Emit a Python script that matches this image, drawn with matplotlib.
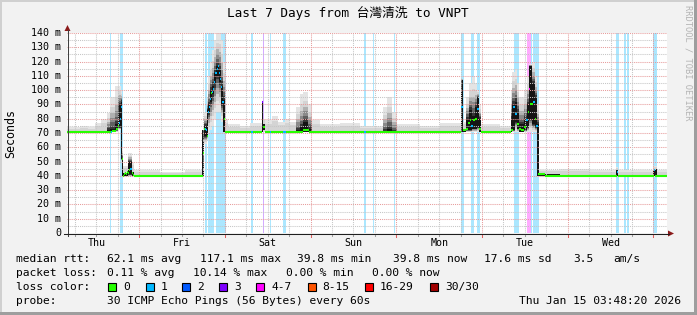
#Importing Required Libraries
import numpy as np
import matplotlib
matplotlib.use("Agg")
import matplotlib.pyplot as plt
from matplotlib.patches import Rectangle, Polygon
from matplotlib.lines import Line2D
from matplotlib.transforms import blended_transform_factory

plt.rcParams['font.family'] = ['DejaVu Sans Mono', 'Noto Sans CJK SC']

#Chart data: time in hours after Thu 00:00, rtt in ms
t_start = 3.8
t_end = 171.8
day_names = ["Thu", "Fri", "Sat", "Sun", "Mon", "Tue", "Wed"]
y_ticks = [0, 10, 20, 30, 40, 50, 60, 70, 80, 90, 100, 110, 120, 130, 140]

#median rtt steps and their loss level
med_t = [3.8, 16.1, 16.4, 17.5, 18.1, 18.4, 18.6, 18.9, 19.2, 19.5, 19.8, 20.0, 20.3, 20.6, 20.9, 21.2, 21.4, 22.0, 22.3, 22.6,
         41.9, 42.2, 42.4, 42.7, 43.0, 43.3, 43.6, 43.8, 44.1, 44.4, 44.7, 45.0, 45.2, 45.8, 46.1, 46.4, 46.6, 46.9, 47.2, 47.8, 48.0,
         55.3, 55.9, 58.4, 58.7, 59.2, 60.6, 60.9, 64.3, 65.1, 69.9, 71.6, 87.0, 87.5,
         114.1, 114.7, 115.5, 116.1, 116.6, 116.9, 117.5, 118.0, 118.6, 119.2, 119.7,
         128.1, 128.7, 129.2, 129.8, 130.4, 130.9, 131.8, 132.3, 132.9, 133.2, 133.4, 134.3, 134.8, 135.1, 135.7, 137.6,
         157.8, 158.1, 168.2, 168.4]
med_rtt = [71, 71, 71.5, 73, 75, 77, 80, 88, 52, 40, 41, 42, 41, 43, 42, 44, 45, 42, 40.5, 40,
           56, 73, 73, 72, 68, 85, 88, 94, 98, 99, 101, 106, 112, 115, 117, 112, 108, 102, 92, 80, 71,
           71, 71, 92, 74, 71, 71, 71, 71, 71, 72, 71, 71, 71,
           88, 72, 73, 77, 79, 75, 79, 80, 87, 73, 71,
           72, 88, 83, 76, 73, 72, 74, 79, 85, 101, 90, 92, 80, 75, 41, 40,
           43, 40, 44, 40]
med_loss = [0, 1, 0, 0, 0, 1, 1, 1, 0, 0, 0, 0, 0, 0, 0, 0, 1, 0, 0, 0,
            0, 0, 1, 1, 0, 1, 1, 1, 0, 1, 1, 1, 1, 1, 1, 1, 1, 1, 1, 0, 0,
            1, 0, 3, 0, 0, 1, 0, 1, 0, 0, 0, 1, 0,
            1, 0, 0, 0, 0, 1, 0, 0, 1, 0, 0,
            0, 1, 1, 0, 0, 0, 0, 1, 0, 4, 0, 1, 0, 1, 0, 0,
            1, 0, 1, 0]

#smoke (spread of the pings): outer range and dark core
smoke_t = [3.8, 7.4, 9.7, 11.6, 13.3, 15.0, 15.8, 17.2, 18.1, 18.9,
           19.2, 19.5, 20.9, 22.0, 22.6, 29.8, 36.8,
           41.6, 42.2, 43.0, 43.3, 43.8, 44.4, 45.0, 45.5, 46.4, 46.9, 47.5,
           48.0, 48.9, 52.2, 55.0, 58.4, 58.7, 59.2, 61.2, 62.9, 64.8,
           66.2, 67.9, 69.0, 69.9, 71.3, 72.4, 74.6, 80.2, 85.8,
           92.3, 93.4, 94.8, 96.2, 102.6, 108.2,
           114.1, 114.7, 115.5, 116.4, 117.2, 118.0, 118.6, 119.2, 119.7, 125.0,
           128.1, 128.4, 129.2, 129.8, 130.4, 131.8, 132.6, 133.2, 134.0, 134.8,
           135.4, 135.9, 141.8, 150.2, 157.5, 158.1, 164.2, 167.9, 169.0]
smoke_lo = [70.5, 70.5, 70.5, 70.5, 70.5, 70.5, 70.5, 70.5, 72, 50,
            39.5, 39.5, 39.5, 39.5, 39.5, 39.5, 39.5,
            39.5, 62, 65, 70, 72, 75, 80, 85, 85, 78, 70,
            70.5, 70.5, 70.5, 70.5, 70.5, 70.5, 70.5, 70.5, 70.5, 70.5,
            70.5, 70.5, 70.5, 70.5, 70.5, 70.5, 70.5, 70.5, 70.5,
            70.5, 70.5, 70.5, 70.5, 70.5, 70.5,
            70.5, 70.5, 70.5, 70.5, 70.5, 70.5, 70.5, 70.5, 70.5, 70.5,
            70.5, 70.5, 70.5, 70.5, 70.5, 70.5, 70.5, 70.5, 70.5, 70.5,
            39.5, 39.5, 39.5, 39.5, 39.5, 39.5, 39.5, 39.5, 39.5]
smoke_hi = [74, 75, 74, 77, 80, 84, 95, 103, 103, 100,
            60, 47, 56, 50, 44, 43, 44,
            72, 85, 95, 110, 120, 128, 135, 140, 140, 135, 120,
            80, 76, 75, 77, 92, 80, 79, 82, 78, 80,
            78, 88, 97, 99, 90, 79, 76, 77, 75,
            88, 95, 85, 76, 75, 77,
            108, 78, 95, 105, 109, 105, 100, 90, 76, 75,
            100, 113, 115, 105, 95, 100, 110, 118, 120, 110,
            90, 44, 45, 44, 46, 44, 44, 47, 44]
core_lo = [71, 71, 71, 71, 71, 71, 71, 72, 74, 52,
           40, 40, 41, 40, 40, 40, 40,
           40, 68, 68, 84, 92, 97, 104, 110, 106, 90, 71,
           71, 71, 71, 71, 71, 72, 71, 71, 71, 71,
           71, 71, 71, 71, 71, 71, 71, 71, 71,
           71, 71, 71, 71, 71, 71,
           71, 71, 72, 72, 73, 73, 74, 71, 71, 71,
           71, 72, 78, 73, 71, 72, 74, 80, 76, 74,
           40, 40, 40, 40, 40, 40, 40, 40, 40]
core_hi = [71, 71, 71, 71, 71, 72, 73, 76, 90, 92,
           52, 42, 50, 43, 40, 40, 40,
           72, 75, 86, 90, 100, 103, 112, 117, 114, 103, 93,
           71, 71, 71, 71, 92, 76, 71, 71, 71, 71,
           71, 72, 74, 78, 73, 71, 71, 71, 71,
           71, 73, 71, 71, 71, 71,
           107, 72, 80, 86, 82, 88, 95, 80, 71, 71,
           80, 90, 92, 85, 76, 80, 90, 117, 105, 95,
           76, 41, 40, 40, 44, 40, 40, 45, 40]

#packet loss bars
loss_start = [15.8, 18.6, 42.4, 43.3, 45.5, 55.3, 58.7, 60.6, 64.3, 87.0, 89.5, 95.4,
              114.1, 116.9, 118.6, 129.0, 132.6, 133.7, 134.3, 157.5, 159.8, 160.6, 167.9]
loss_end = [16.1, 19.5, 43.0, 45.0, 48.3, 55.9, 59.0, 61.0, 65.1, 87.5, 89.8, 95.7,
            115.0, 117.8, 119.4, 130.4, 133.6, 134.0, 136.0, 158.4, 160.3, 161.2, 169.0]
loss_level = [1, 1, 1, 1, 1, 1, 3, 1, 1, 1, 1, 1,
              1, 1, 1, 1, 4, 1, 1, 1, 1, 1, 1]

loss_labels = ["0", "1", "2", "3", "4-7", "8-15", "16-29", "30/30"]
loss_colors = ["#26ff00", "#00b8ff", "#0059ff", "#7e00ff", "#ff00ff", "#ff5500", "#ff0000", "#a10000"]

#Figure setup (sizes in pixels)
W, H = 697, 315
fig = plt.figure(figsize=(W / 100, H / 100), dpi=100)
fig.patch.set_facecolor("#f2f2f2")

def fx(x):
    return x / W

def fy(y):
    return 1 - y / H

#frame shading
fig.add_artist(Rectangle((0, fy(2)), 1, 2 / H, transform=fig.transFigure, fc="#d0d0d0", lw=0))
fig.add_artist(Rectangle((0, 0), 2 / W, 1, transform=fig.transFigure, fc="#d0d0d0", lw=0))
fig.add_artist(Rectangle((0, 0), 1, 3 / H, transform=fig.transFigure, fc="#9e9e9e", lw=0))
fig.add_artist(Rectangle((fx(W - 3), 0), 3 / W, 1, transform=fig.transFigure, fc="#9e9e9e", lw=0))

ax = fig.add_axes([fx(67), fy(233), 600 / W, 200 / H])
ax.set_facecolor("white")
ax.set_xlim(t_start, t_end)
ax.set_ylim(0, 140)
ax.set_xticks([])
ax.set_yticks([])
for s in ax.spines.values():
    s.set_visible(False)

#loss bars
for s, e, l in zip(loss_start, loss_end, loss_level):
    ax.axvspan(s, e, color=loss_colors[l], alpha=0.33, lw=0, zorder=1)

#smoke: light outer band, darker towards the core, dark shades only where the spread is wide
st = np.array(smoke_t + [t_end])
def ext(a):
    return np.array(a + [a[-1]], dtype=float)
lo, hi, clo, chi = ext(smoke_lo), ext(smoke_hi), ext(core_lo), ext(core_hi)
wide = (hi - lo) > 12
shades = ["#e4e4e4", "#d4d4d4", "#b0b0b0", "#8a8a8a", "#606060", "#363636"]
fracs = [0.0, 0.3, 0.5, 0.65, 0.8, 0.9]
for k, (f, c) in enumerate(zip(fracs, shades)):
    b = lo + (clo - lo) * f
    t = hi + (chi - hi) * f
    if k >= 2:
        t = np.where(wide, t, b)
    ax.fill_between(st, b, t, step="post", color=c, lw=0, zorder=3)
ax.fill_between(st, clo, chi, step="post", color="#141414", lw=0, zorder=3)

#grid
for y in range(5, 141, 5):
    major = y % 10 == 0
    ax.axhline(y, color="#e79c9c" if major else "#c6c6c6", lw=0.75, dashes=(1, 1), zorder=4)
for h in range(6, 172, 6):
    if h <= t_start:
        continue
    major = h % 24 == 0
    ax.axvline(h, color="#e79c9c" if major else "#c6c6c6", lw=0.75, dashes=(1, 1), zorder=4)

#median rtt coloured by loss
mt = med_t + [t_end]
for i in range(len(med_rtt)):
    ax.hlines(med_rtt[i], mt[i], mt[i + 1], colors=loss_colors[med_loss[i]], lw=1.5, zorder=5)

#axes with arrows
fig.add_artist(Line2D([fx(67.5), fx(67.5)], [fy(236), fy(30)], color="#404040", lw=0.75))
fig.add_artist(Line2D([fx(64), fx(669)], [fy(233.5), fy(233.5)], color="#202020", lw=0.75))
fig.add_artist(Polygon([[fx(64.5), fy(31)], [fx(70.5), fy(31)], [fx(67.5), fy(25)]],
                       transform=fig.transFigure, fc="#8b1a1a", lw=0))
fig.add_artist(Polygon([[fx(668), fy(230.5)], [fx(668), fy(236.5)], [fx(674), fy(233.5)]],
                       transform=fig.transFigure, fc="#8b1a1a", lw=0))

#x ticks and day labels
tx = blended_transform_factory(ax.transData, fig.transFigure)
for h in range(6, 172, 6):
    if h <= t_start:
        continue
    major = h % 24 == 0
    ax.add_line(Line2D([h, h], [fy(234), fy(237 if major else 236)], transform=tx,
                       color="#e06060" if major else "#a0a0a0", lw=0.75, clip_on=False))
for i, d in enumerate(day_names):
    ax.text(i * 24 + 12, fy(242.5), d, transform=tx, ha="center", va="center", fontsize=7.2)

#y tick labels
ty = blended_transform_factory(fig.transFigure, ax.transData)
for v in y_ticks:
    lab = "0" if v == 0 else "%d m" % v
    ax.text(fx(61), v, lab, transform=ty, ha="right", va="center", fontsize=7.2)

#titles
fig.text(fx(348), fy(13), "Last 7 Days from 台灣清洗 to VNPT", ha="center", va="center", fontsize=9.2)
fig.text(fx(11), fy(133), "Seconds", rotation=90, ha="center", va="center", fontsize=8.4)
fig.text(fx(688), fy(5), "RRDTOOL / TOBI OETIKER", rotation=270, ha="center", va="top",
         fontsize=6.3, color="#b4b4b4")

#legend
rows_y = [259, 273, 287, 301]
row1 = [("median rtt:", 16), ("62.1 ms avg", 107), ("117.1 ms max", 200), ("39.8 ms min", 297),
        ("39.8 ms now", 393), ("17.6 ms sd", 484), ("3.5", 573), ("am/s", 613)]
row2 = [("packet loss:", 16), ("0.11 % avg", 107), ("10.14 % max", 193), ("0.00 % min", 286),
        ("0.00 % now", 372)]
for txt, x in row1:
    fig.text(fx(x), fy(rows_y[0]), txt, ha="left", va="center", fontsize=8.1)
for txt, x in row2:
    fig.text(fx(x), fy(rows_y[1]), txt, ha="left", va="center", fontsize=8.1)

fig.text(fx(16), fy(rows_y[2]), "loss color:", ha="left", va="center", fontsize=8.1)
box_x = [108, 145.5, 182, 219, 256, 307.5, 365, 430]
for bx, lab, col in zip(box_x, loss_labels, loss_colors):
    fig.add_artist(Rectangle((fx(bx), fy(rows_y[2] + 4)), 8 / W, 8 / H, transform=fig.transFigure,
                             fc=col, ec="black", lw=0.8))
    fig.text(fx(bx + 15), fy(rows_y[2]), lab, ha="left", va="center", fontsize=8.1)

fig.text(fx(16), fy(rows_y[3]), "probe:", ha="left", va="center", fontsize=8.1)
fig.text(fx(107), fy(rows_y[3]), "30 ICMP Echo Pings (56 Bytes) every 60s", ha="left", va="center", fontsize=8.1)
fig.text(fx(681), fy(rows_y[3]), "Thu Jan 15 03:48:20 2026", ha="right", va="center", fontsize=8.1)

fig.savefig("out.png", dpi=100, facecolor=fig.get_facecolor())
